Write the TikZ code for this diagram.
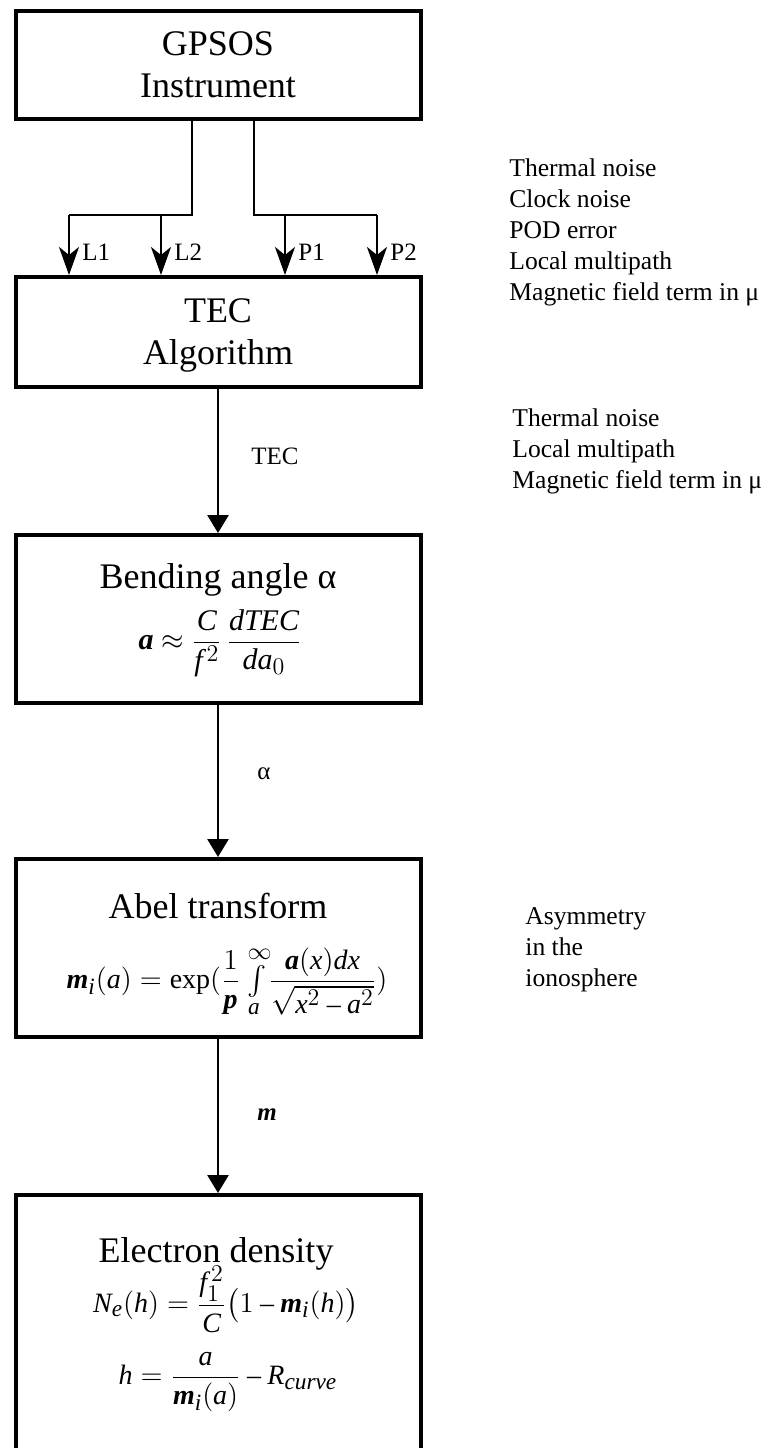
\documentclass[tikz,border=0pt]{standalone}
\usepackage{amsmath}
\usepackage{fontspec}
\setmainfont{Liberation Serif}
\usepackage[italic]{mathastext}
\usetikzlibrary{arrows.meta}

\newcommand{\bsym}[1]{\textbf{\textit{#1}}}

\begin{document}
\begin{tikzpicture}[
  x=0.5pt, y=-0.5pt,
  box/.style={draw, line width=2pt, minimum width=202.5pt, align=center, inner sep=0pt},
  title/.style={font=\fontsize{18}{21}\selectfont, inner sep=0pt},
  note/.style={font=\fontsize{12.8}{15.5}\selectfont, align=left, anchor=base west, inner sep=0pt},
  lbl/.style={font=\fontsize{12.5}{15}\selectfont, inner sep=0pt},
  sig/.style={font=\fontsize{12.5}{15}\selectfont, inner sep=0pt},
  eqn/.style={font=\fontsize{14}{17}\selectfont, inner sep=0pt},
  wire/.style={line width=1.4pt},
  flow/.style={line width=1.4pt, -{Triangle[length=9pt,width=10.5pt]}},
  split/.style={line width=1.4pt, -{Stealth[length=14pt,width=10pt,inset=4pt]}}
]
  \clip (0,0) rectangle (768,1448);

  % ---------- boxes ----------
  \node[box, title, text depth=0pt, minimum height=54pt] (gps) at (218,65) {GPSOS\\Instrument};
  \node[box, title, text depth=0pt, minimum height=55pt] (tec) at (218,332) {TEC\\Algorithm};
  \node[box, minimum height=84pt] (bend) at (218,619) {};
  \node[box, minimum height=89pt] (abel) at (218,948) {};
  \node[box, minimum height=150pt] (dens) at (218,1345) {};

  % ---------- box contents ----------
  \node[title, anchor=base] (bendt) at (218,588) {Bending angle α};
  \node[eqn, font=\fontsize{15}{18}\selectfont] (bende) at (220,643)
    {$\bsym{a} \approx \dfrac{C}{f^{\,2}}\,\dfrac{dTEC}{da_{0}}$};

  \node[title, anchor=base] (abelt) at (218,918) {Abel transform};
  \node[eqn] (abele) at (227,982)
    {$\bsym{m}_{i}(a) = \exp(\dfrac{1}{\bsym{p}}\,{\textstyle\int\limits_{a}^{\infty}}\dfrac{\bsym{a}(x)dx}{\sqrt{x^{2}-a^{2}}})$};

  \node[title, anchor=base] (denst) at (216,1262) {Electron density};
  \node[eqn] (dense1) at (226,1299)
    {$N_{e}(h) = \dfrac{f_{1}^{\,2}}{C}\bigl(1-\bsym{m}_{i}(h)\bigr)$};
  \node[eqn] (dense2) at (228,1382)
    {$h = \dfrac{a}{\bsym{m}_{i}(a)} - R_{curve}$};

  % ---------- signals out of the instrument ----------
  \coordinate (ljoin) at (192,215);
  \coordinate (pjoin) at (254,215);
  \coordinate (l1) at (69,215);
  \coordinate (l2) at (161,215);
  \coordinate (p1) at (285,215);
  \coordinate (p2) at (377,215);

  \draw[wire] (ljoin |- gps.south) -- (ljoin) -- (l1);
  \draw[wire] (pjoin |- gps.south) -- (pjoin) -- (p2);
  \draw[split] (l1) -- (l1 |- tec.north) node[sig, pos=0.62, right=6pt] {L1};
  \draw[split] (l2) -- (l2 |- tec.north) node[sig, pos=0.62, right=6pt] {L2};
  \draw[split] (p1) -- (p1 |- tec.north) node[sig, pos=0.62, right=6pt] {P1};
  \draw[split] (p2) -- (p2 |- tec.north) node[sig, pos=0.62, right=6pt] {P2};

  % ---------- main flow ----------
  \draw[flow] (tec) -- (bend) node[lbl, pos=0.47, right=16pt] {TEC};
  \draw[flow] (bend) -- (abel) node[lbl, pos=0.45, right=19pt] {α};
  \draw[flow] (abel) -- (dens) node[lbl, pos=0.49, right=19pt] {$\bsym{m}$};

  % ---------- error sources ----------
  \node[note] (err1) at (509,300)
    {Thermal noise\\Clock noise\\POD error\\Local multipath\\Magnetic field term in μ};
  \node[note] (err2) at (512,488)
    {Thermal noise\\Local multipath\\Magnetic field term in μ};
  \node[note] (err3) at (525,986)
    {Asymmetry\\in the\\ionosphere};
\end{tikzpicture}
\end{document}
